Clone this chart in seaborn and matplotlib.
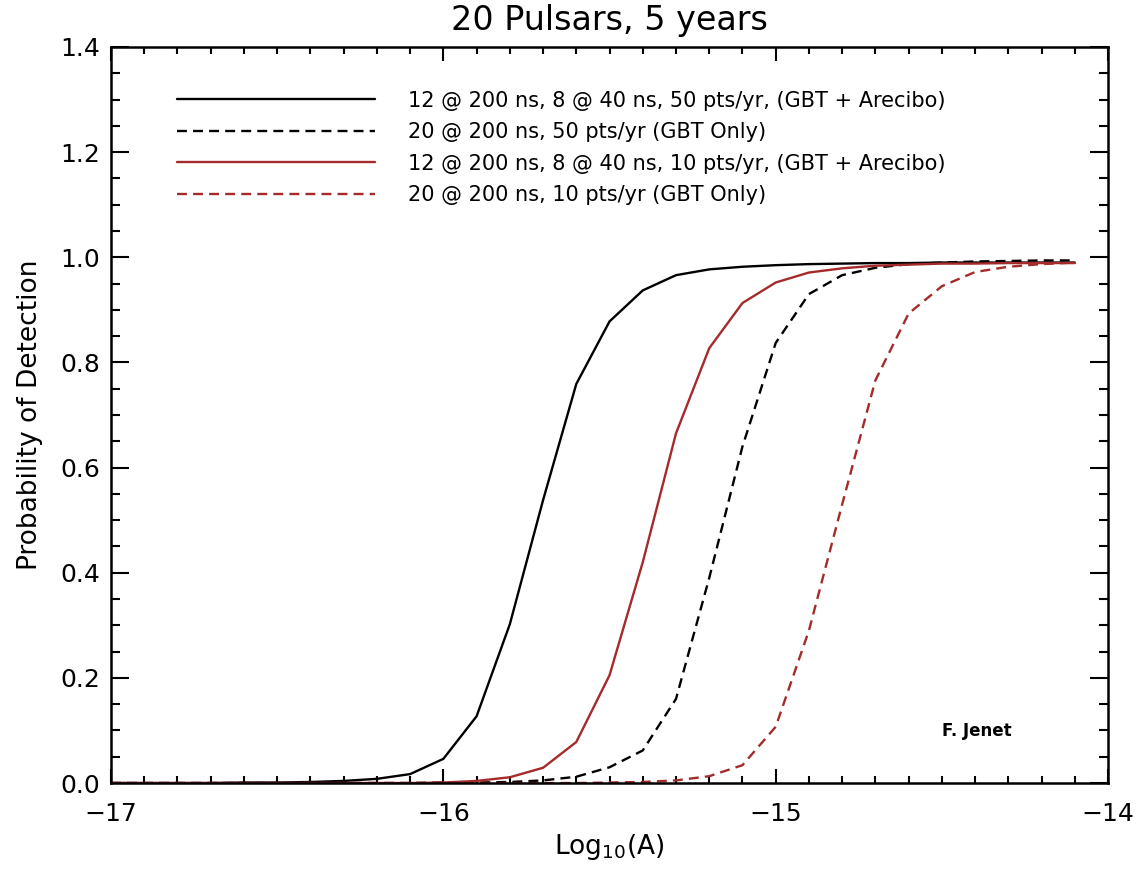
import pandas as pd
import matplotlib
matplotlib.use("Agg")
import matplotlib.pyplot as plt
import seaborn as sns
from matplotlib.ticker import MultipleLocator, FormatStrFormatter

# Log10 amplitude grid
log_amp = [-17.0, -16.9, -16.8, -16.7, -16.6, -16.5, -16.4, -16.3, -16.2, -16.1,
           -16.0, -15.9, -15.8, -15.7, -15.6, -15.5, -15.4, -15.3, -15.2, -15.1,
           -15.0, -14.9, -14.8, -14.7, -14.6, -14.5, -14.4, -14.3, -14.2, -14.1]

# Probability of detection for each configuration
p_mixed_50 = [0.0, 0.0, 0.0, 0.0, 0.001, 0.001, 0.002, 0.004, 0.008, 0.017,
              0.046, 0.127, 0.302, 0.538, 0.759, 0.878, 0.937, 0.966, 0.977, 0.982,
              0.985, 0.987, 0.988, 0.989, 0.989, 0.990, 0.990, 0.990, 0.990, 0.990]
p_gbt_50 = [0.0, 0.0, 0.0, 0.0, 0.0, 0.0, 0.0, 0.0, 0.0, 0.0,
            0.001, 0.001, 0.002, 0.005, 0.012, 0.030, 0.062, 0.160, 0.390, 0.640,
            0.837, 0.930, 0.966, 0.980, 0.987, 0.990, 0.992, 0.993, 0.994, 0.994]
p_mixed_10 = [0.0, 0.0, 0.0, 0.0, 0.0, 0.0, 0.0, 0.0, 0.0, 0.0,
              0.001, 0.004, 0.011, 0.029, 0.078, 0.205, 0.420, 0.665, 0.827, 0.913,
              0.952, 0.971, 0.979, 0.984, 0.986, 0.988, 0.988, 0.989, 0.989, 0.989]
p_gbt_10 = [0.0, 0.0, 0.0, 0.0, 0.0, 0.0, 0.0, 0.0, 0.0, 0.0,
            0.0, 0.0, 0.0, 0.0, 0.0, 0.001, 0.002, 0.005, 0.013, 0.034,
            0.107, 0.290, 0.530, 0.766, 0.893, 0.945, 0.972, 0.982, 0.987, 0.990]

labels = ["12 @ 200 ns, 8 @ 40 ns, 50 pts/yr, (GBT + Arecibo)",
          "20 @ 200 ns, 50 pts/yr (GBT Only)",
          "12 @ 200 ns, 8 @ 40 ns, 10 pts/yr, (GBT + Arecibo)",
          "20 @ 200 ns, 10 pts/yr (GBT Only)"]

red = "#a52a2a"
dash = (0, (4.2, 2.6))
series = [(p_mixed_50, "black", "-"),
          (p_gbt_50, "black", dash),
          (p_mixed_10, red, "-"),
          (p_gbt_10, red, dash)]

sns.set_style("ticks")
plt.rcParams['font.family'] = ['DejaVu Sans']
plt.rcParams['text.color'] = 'black'
plt.rcParams['axes.labelcolor'] = 'black'

fig = plt.figure(figsize=(11.41, 8.75), dpi=100)
ax = fig.add_axes([0.0973, 0.1051, 0.8738, 0.8412])

for (vals, col, ls), lab in zip(series, labels):
    df = pd.DataFrame({'Log': log_amp, 'P': vals})
    sns.lineplot(x='Log', y='P', data=df, ax=ax, color=col, linestyle=ls,
                 linewidth=1.7, label=lab)

ax.set_xlim(-17, -14)
ax.set_ylim(0, 1.4)
ax.xaxis.set_major_locator(MultipleLocator(1))
ax.xaxis.set_minor_locator(MultipleLocator(0.1))
ax.yaxis.set_major_locator(MultipleLocator(0.2))
ax.yaxis.set_minor_locator(MultipleLocator(0.05))
ax.yaxis.set_major_formatter(FormatStrFormatter('%.1f'))
ax.tick_params(axis='both', which='both', direction='in', top=True, right=True,
               width=1.5, labelsize=18, colors='black')
ax.tick_params(axis='x', which='major', length=10, pad=14)
ax.tick_params(axis='x', which='minor', length=5)
ax.tick_params(axis='y', which='major', length=13, pad=8)
ax.tick_params(axis='y', which='minor', length=6.5)
for sp in ax.spines.values():
    sp.set_linewidth(1.8)
    sp.set_color('black')

ax.set_title("20 Pulsars, 5 years", fontsize=24, pad=12)
ax.set_xlabel("Log$_{10}$(A)", fontsize=19, labelpad=4)
ax.set_ylabel("Probability of Detection", fontsize=19, labelpad=12)

ax.legend(loc='upper left', bbox_to_anchor=(0.047, 0.966), frameon=False,
          fontsize=15, handlelength=9.5, handletextpad=1.6, labelspacing=0.55)

ax.text(-14.5, 0.09, "F. Jenet", fontsize=12, fontweight='bold')

fig.savefig("out.png", dpi=100)
